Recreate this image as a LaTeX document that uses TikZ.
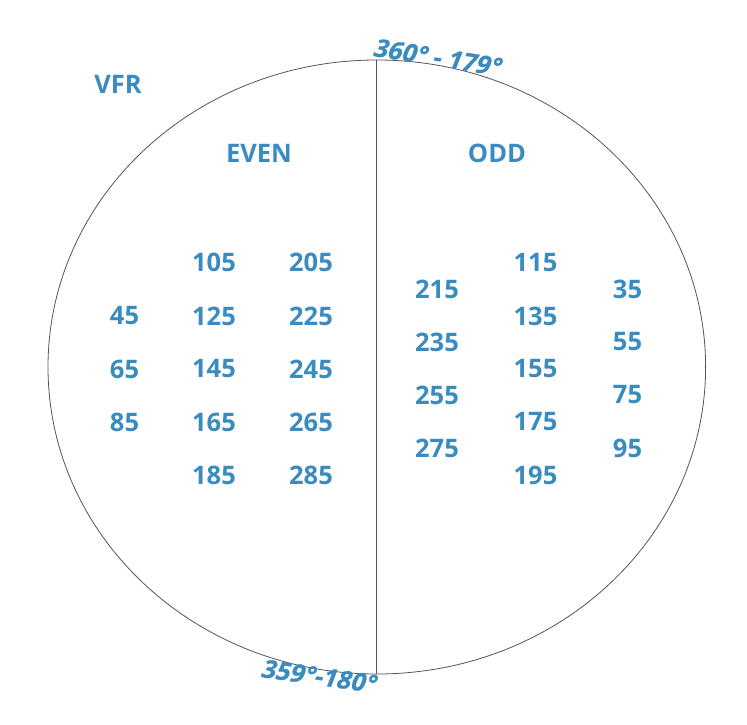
\documentclass[tikz,border=0pt]{standalone}
\usepackage{fontspec}
\setmainfont{Open Sans}
\newfontfamily\angfont{Open Sans}[UprightFont=*/B,FakeSlant=0.22,FakeBold=0.8]
\definecolor{lbl}{HTML}{3A8BC0}
\definecolor{ln}{HTML}{555555}
\begin{document}
\begin{tikzpicture}[x=1pt,y=-1pt,
  lab/.style={text=lbl,font=\fontsize{25.5}{30}\selectfont\bfseries,inner sep=0pt},
  ang/.style={text=lbl,font=\angfont\fontsize{25}{30}\selectfont,inner sep=0pt}]
\useasboundingbox (0,0) rectangle (747,725);
\draw[ln,line width=0.8pt] (376.8,367) ellipse [x radius=328.8, y radius=307];
\coordinate (top) at (376.5,60);
\coordinate (bot) at (376.5,674);
\draw[ln,line width=0.8pt] (top) -- (bot);
\node[lab] (vfr) at (118,84) {VFR};
\node[lab] (even) at (259,153) {EVEN};
\node[lab] (odd) at (497,153) {ODD};
\node[ang,rotate=-9] (t) at (436.5,57) {360° - 179°};
\node[ang,rotate=-8] (b) at (318,676) {359°-180°};
% even side
\node[lab] (n45) at (124.5,316) {45};
\node[lab] (n65) at (124.5,369) {65};
\node[lab] (n85) at (124.5,422) {85};
\node[lab] (n105) at (214,262.5) {105};
\node[lab] (n125) at (214,316) {125};
\node[lab] (n145) at (214,369) {145};
\node[lab] (n165) at (214,422) {165};
\node[lab] (n185) at (214,475) {185};
\node[lab] (n205) at (311,262.5) {205};
\node[lab] (n225) at (311,316) {225};
\node[lab] (n245) at (311,369) {245};
\node[lab] (n265) at (311,422) {265};
\node[lab] (n285) at (311,475) {285};
% odd side
\node[lab] (n215) at (437,289) {215};
\node[lab] (n235) at (437,342) {235};
\node[lab] (n255) at (437,395) {255};
\node[lab] (n275) at (437,448) {275};
\node[lab] (n115) at (535.5,262.5) {115};
\node[lab] (n135) at (535.5,316) {135};
\node[lab] (n155) at (535.5,369) {155};
\node[lab] (n175) at (535.5,422) {175};
\node[lab] (n195) at (535.5,475) {195};
\node[lab] (n35) at (627.5,289) {35};
\node[lab] (n55) at (627.5,342) {55};
\node[lab] (n75) at (627.5,395) {75};
\node[lab] (n95) at (627.5,448) {95};
\end{tikzpicture}
\end{document}
